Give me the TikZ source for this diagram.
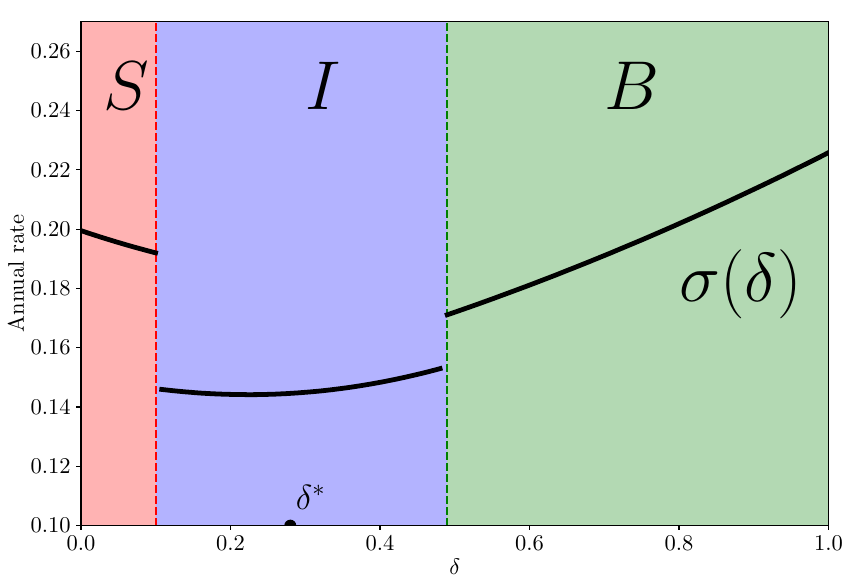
\RequirePackage{fix-cm}
\documentclass[tikz,border=0pt]{standalone}
\usepackage{tikz}
\definecolor{sshade}{RGB}{255,179,179}
\definecolor{ishade}{RGB}{179,179,255}
\definecolor{bshade}{RGB}{179,217,179}
\definecolor{mplgreen}{RGB}{0,128,0}
\tikzset{
% Styles for the regime plot: boundaries, rate curve, frame and labels
boundary/.style={line width=1.04pt,dash pattern=on 3.85pt off 1.67pt},
rate curve/.style={line width=2.4pt,line cap=rect},
frame/.style={line width=0.56pt},
tick label/.style={inner sep=0,font=\fontsize{11.3}{13}\selectfont},
regime label/.style={anchor=base west,inner sep=0,font=\fontsize{34.7}{40}\selectfont}
}

\begin{document}
\begin{tikzpicture}[x=13.185cm,y=52.3cm,font=\fontsize{11.3}{13}\selectfont]
      % Keep the margins of the figure
      \useasboundingbox (-0.10836,0.08304) rectangle (1.0475,0.27729);
      % Shaded regimes
      \fill[sshade] (0,0.10) rectangle (0.10,0.27);
      \fill[ishade] (0.10,0.10) rectangle (0.49,0.27);
      \fill[bshade] (0.49,0.10) rectangle (1,0.27);
      % Regime boundaries
      \coordinate (sb0) at (0.10,0.10); \coordinate (sb1) at (0.10,0.27);
      \coordinate (ib0) at (0.49,0.10); \coordinate (ib1) at (0.49,0.27);
      \draw[boundary,red] (sb0) -- (sb1);
      \draw[boundary,mplgreen] (ib0) -- (ib1);
      % Rate curve, one piece per regime, clipped to the axes
      \begin{scope}
        \clip (0,0.10) rectangle (1,0.27);
        \draw[rate curve] plot[domain=0:0.1,samples=20]
          (\x,{0.1995-0.085*\x+0.1*\x*\x});
        \draw[rate curve] plot[domain=0.108:0.481,samples=50]
          (\x,{0.1460-0.01513*(\x-0.1057)+0.1325*(\x-0.1057)*(\x-0.226)});
        \draw[rate curve] plot[domain=0.49:1,samples=50]
          (\x,{0.17083+0.09697*(\x-0.487)+0.04037*(\x-0.487)*(\x-0.7478)});
        % optimal delta on the axis
        \fill (0.28,0.10) circle[radius=3pt];
      \end{scope}
      % Frame and ticks
      \draw[frame] (0,0.10) rectangle (1,0.27);
      \foreach \t in {0.0,0.2,0.4,0.6,0.8,1.0}
        \draw[frame] (\t,0.10) -- ++(0,-2.43pt)
          node[tick label,anchor=north,yshift=-2.45pt] {$\t$};
      \foreach \t in {0.10,0.12,0.14,0.16,0.18,0.20,0.22,0.24,0.26}
        \draw[frame] (0,\t) -- ++(-2.43pt,0)
          node[tick label,anchor=east,xshift=-2.45pt] {$\t$};
      % Axis labels
      \node(xlabel)[anchor=north,inner sep=0] at (0.5,0.0891) {$\delta$};
      \node(ylabel)[rotate=90,inner sep=0] at (-0.087,0.185) {$\mathrm{Annual\ rate}$};
      % Regime names and curve label
      \node(lblS)[regime label] at (0.03,0.2402) {$S$};
      \node(lblI)[regime label] at (0.30,0.2402) {$I$};
      \node(lblB)[regime label] at (0.70,0.2402) {$B$};
      \node(sigma)[regime label] at (0.80,0.1755) {$\sigma(\delta)$};
      \node(dstar)[anchor=base west,inner sep=0,font=\fontsize{17.5}{20}\selectfont]
        at (0.287,0.1055) {$\delta^*$};
    \end{tikzpicture}
\end{document}
